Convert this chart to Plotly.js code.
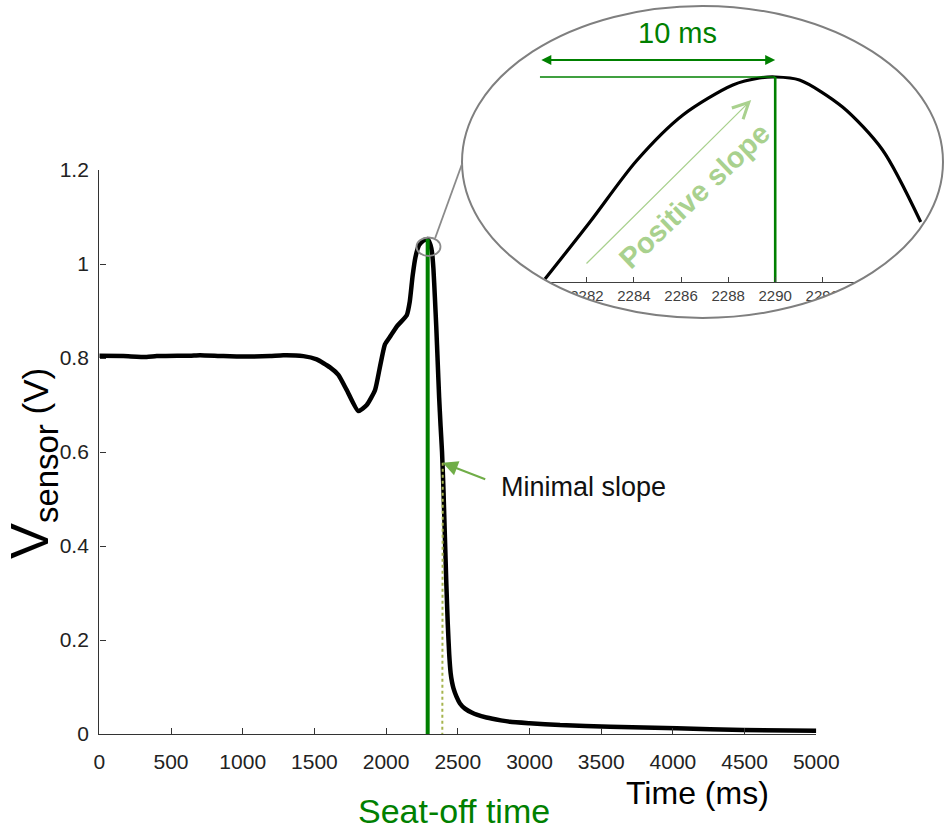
<!DOCTYPE html>
<html>
<head>
<meta charset="utf-8">
<script src="https://cdn.plot.ly/plotly-3.0.1.min.js"></script>
<style>
  html, body { margin: 0; padding: 0; background: #fff; }
  #chart { width: 950px; height: 831px; }
</style>
</head>
<body>
<div id="chart"></div>
<script>
// sensor trace (ms, V)
const timeMs = [0, 168, 330, 400, 632, 702, 865, 1051, 1190, 1283, 1423, 1516, 1609, 1667,
  1725, 1806, 1865, 1923, 1957, 1992, 2027, 2074, 2144, 2165, 2185, 2205, 2230, 2260, 2290,
  2300, 2310, 2320, 2330, 2340, 2350, 2360, 2370, 2380, 2390, 2400, 2410, 2420, 2430, 2440,
  2450, 2460, 2470, 2490, 2515, 2550, 2600, 2632, 2700, 2800, 2864, 3000, 3213, 3562, 4027,
  4491, 5000];
const sensorV = [0.805, 0.804, 0.802, 0.804, 0.805, 0.806, 0.804, 0.803, 0.804, 0.806, 0.804,
  0.797, 0.780, 0.764, 0.732, 0.687, 0.700, 0.732, 0.781, 0.829, 0.845, 0.867, 0.891, 0.920,
  0.975, 1.015, 1.040, 1.050, 1.053, 1.048, 1.040, 1.025, 0.990, 0.930, 0.865, 0.790, 0.715,
  0.655, 0.600, 0.520, 0.420, 0.320, 0.235, 0.170, 0.130, 0.110, 0.097, 0.080, 0.065, 0.054,
  0.045, 0.041, 0.035, 0.029, 0.026, 0.023, 0.019, 0.0155, 0.012, 0.0085, 0.007];

// seat-off marker and minimal-slope tangent
const seatOffMs = 2290;
const peakV = 1.053;
const minSlopePoint = [2395, 0.577];
const tangentZeroMs = 2392;

// zoomed inset around the peak (ms, mV)
const zoomMs = [2280.22, 2282.13, 2284.10, 2286.08, 2288.20, 2289.33, 2290.00, 2291.03,
  2292.86, 2294.56, 2296.18];
const zoomMv = [1050.98, 1051.55, 1052.16, 1052.62, 1052.92, 1052.99, 1053.00, 1052.97,
  1052.70, 1052.27, 1051.55];
const zoomTicks = [2282, 2284, 2286, 2288, 2290, 2292];
const zoomPeakMv = 1053.00;
const windowStartMs = 2280;   // 10 ms window before the peak
const windowArrowMv = 1053.17;
const slopeArrowFrom = [2281.92, 1051.12];
const slopeArrowTo = [2288.98, 1052.77];

const xTicks = [0, 500, 1000, 1500, 2000, 2500, 3000, 3500, 4000, 4500, 5000];

const W = 950, H = 831;
const GREEN = 'rgb(0,128,0)';
const FONT = 'Arial, "Liberation Sans", sans-serif';

// pixel -> paper helpers (margins are zero, so paper == figure)
const px = (x) => x / W;
const py = (y) => 1 - y / H;

function ellipsePath(cx, cy, rx, ry) {
  const k = 0.5523;
  const p = (x, y) => px(x).toFixed(5) + ',' + py(y).toFixed(5);
  return 'M' + p(cx + rx, cy) +
    'C' + p(cx + rx, cy + k * ry) + ' ' + p(cx + k * rx, cy + ry) + ' ' + p(cx, cy + ry) +
    'C' + p(cx - k * rx, cy + ry) + ' ' + p(cx - rx, cy + k * ry) + ' ' + p(cx - rx, cy) +
    'C' + p(cx - rx, cy - k * ry) + ' ' + p(cx - k * rx, cy - ry) + ' ' + p(cx, cy - ry) +
    'C' + p(cx + k * rx, cy - ry) + ' ' + p(cx + rx, cy - k * ry) + ' ' + p(cx + rx, cy) + 'Z';
}

const bigE = { cx: 702.5, cy: 162, rx: 240.5, ry: 156 };
const maskRect = 'M' + px(528) + ',' + py(28) + 'H' + px(948) + 'V' + py(316) + 'H' + px(528) + 'Z';

// text label placed by its centre
function label(x, y, text, size, color, extra) {
  return Object.assign({
    xref: 'paper', yref: 'paper', x: px(x), y: py(y), xanchor: 'center', yanchor: 'middle',
    showarrow: false, text: text, font: { family: FONT, size: size, color: color }
  }, extra || {});
}

const data = [
  {
    x: timeMs, y: sensorV, type: 'scatter', mode: 'lines',
    line: { color: '#000', width: 4.5, shape: 'spline', smoothing: 0.5 },
    hoverinfo: 'skip'
  },
  {
    x: [minSlopePoint[0], tangentZeroMs], y: [minSlopePoint[1], 0],
    type: 'scatter', mode: 'lines',
    line: { color: '#a6b44e', width: 2, dash: 'dot' }, hoverinfo: 'skip'
  },
  {
    x: [seatOffMs, seatOffMs], y: [0, peakV], type: 'scatter', mode: 'lines',
    line: { color: GREEN, width: 4 }, hoverinfo: 'skip'
  },
  // inset
  {
    x: zoomMs, y: zoomMv, xaxis: 'x2', yaxis: 'y2', type: 'scatter', mode: 'lines',
    line: { color: '#000', width: 3.2, shape: 'spline', smoothing: 0.8 }, hoverinfo: 'skip'
  },
  {
    x: [windowStartMs, seatOffMs], y: [zoomPeakMv, zoomPeakMv], xaxis: 'x2', yaxis: 'y2',
    type: 'scatter', mode: 'lines', line: { color: GREEN, width: 1.4 }, hoverinfo: 'skip'
  },
  {
    x: [seatOffMs, seatOffMs], y: [1050.95, zoomPeakMv], xaxis: 'x2', yaxis: 'y2',
    type: 'scatter', mode: 'lines', line: { color: GREEN, width: 2.6 }, hoverinfo: 'skip'
  }
];

const layout = {
  width: W, height: H,
  margin: { l: 0, r: 0, t: 0, b: 0, pad: 0 },
  paper_bgcolor: '#fff', plot_bgcolor: '#fff',
  showlegend: false,
  font: { family: FONT, color: '#222' },
  xaxis: {
    domain: [99.3 / W, 816.3 / W], range: [0, 5000], tickvals: xTicks,
    ticks: 'inside', ticklen: 6, tickcolor: '#333', tickwidth: 1.2,
    showline: true, linecolor: '#333', linewidth: 1.4, ticklabelstandoff: 9,
    showgrid: false, zeroline: false, tickfont: { size: 21, color: '#222' },
    anchor: 'y'
  },
  yaxis: {
    domain: [1 - 734 / H, 1 - 170 / H], range: [0, 1.2], dtick: 0.2,
    ticks: 'inside', ticklen: 6, tickcolor: '#333', tickwidth: 1.2,
    showline: true, linecolor: '#333', linewidth: 1.4, ticklabelstandoff: 5,
    showgrid: false, zeroline: false, tickfont: { size: 21, color: '#222' },
    anchor: 'x'
  },
  xaxis2: {
    domain: [539.8 / W, 940 / W], range: [2280, 2297], tickvals: zoomTicks,
    ticks: 'inside', ticklen: 5, tickcolor: '#404040', tickwidth: 1,
    showline: true, linecolor: '#404040', linewidth: 1.2,
    showgrid: false, zeroline: false, tickfont: { size: 15, color: '#404040' },
    anchor: 'y2'
  },
  yaxis2: {
    domain: [1 - 282 / H, 1 - 40 / H], range: [1050.95, 1053.37],
    visible: false, anchor: 'x2'
  },
  shapes: [
    // white mask outside the magnifier ellipse
    {
      type: 'path', xref: 'paper', yref: 'paper', layer: 'above',
      path: maskRect + ellipsePath(bigE.cx, bigE.cy, bigE.rx, bigE.ry),
      fillrule: 'evenodd', fillcolor: '#fff', line: { width: 0 }
    },
    {
      type: 'circle', xref: 'paper', yref: 'paper', layer: 'above',
      x0: px(bigE.cx - bigE.rx), x1: px(bigE.cx + bigE.rx),
      y0: py(bigE.cy + bigE.ry), y1: py(bigE.cy - bigE.ry),
      line: { color: '#7f7f7f', width: 2 }, fillcolor: 'rgba(0,0,0,0)'
    },
    {
      type: 'circle', xref: 'paper', yref: 'paper', layer: 'above',
      x0: px(416.5), x1: px(440.5), y0: py(256), y1: py(237.5),
      line: { color: '#8a8a8a', width: 1.8 }, fillcolor: 'rgba(0,0,0,0)'
    },
    {
      type: 'line', xref: 'paper', yref: 'paper', layer: 'above',
      x0: px(435), y0: py(238.5), x1: px(462), y1: py(164),
      line: { color: '#8a8a8a', width: 1.8 }
    }
  ],
  annotations: [
    label(32, 464,
      '<span style="font-size:54px">V</span><sub>sensor</sub><span style="font-size:35px"> (V)</span>',
      47, '#000', { textangle: -90 }),
    label(697, 793, 'Time (ms)', 32, '#000'),
    label(454, 811, 'Seat-off time', 34, GREEN),
    {
      xref: 'x', yref: 'y', x: minSlopePoint[0], y: minSlopePoint[1],
      ax: 44, ay: 17, text: '', showarrow: true,
      arrowhead: 2, arrowsize: 1.5, arrowwidth: 2, arrowcolor: '#70ad47', standoff: 0
    },
    label(583, 487, 'Minimal slope', 27, '#111'),
    label(677, 33, '10 ms', 29, GREEN),
    {
      xref: 'x2', yref: 'y2', axref: 'x2', ayref: 'y2',
      x: seatOffMs, y: windowArrowMv, ax: windowStartMs, ay: windowArrowMv,
      text: '', showarrow: true, arrowside: 'end+start',
      arrowhead: 2, arrowsize: 1, arrowwidth: 2, arrowcolor: GREEN, standoff: 0, startstandoff: 0
    },
    {
      xref: 'x2', yref: 'y2', axref: 'x2', ayref: 'y2',
      x: slopeArrowTo[0], y: slopeArrowTo[1], ax: slopeArrowFrom[0], ay: slopeArrowFrom[1],
      text: '', showarrow: true, arrowhead: 5, arrowsize: 2.4, arrowwidth: 1.3,
      arrowcolor: '#a9d18e', standoff: 0
    },
    label(694, 196, '<b>Positive slope</b>', 29, '#a9d18e', { textangle: -43.6 })
  ]
};

Plotly.newPlot('chart', data, layout, { displayModeBar: false, responsive: false });
</script>
</body>
</html>
